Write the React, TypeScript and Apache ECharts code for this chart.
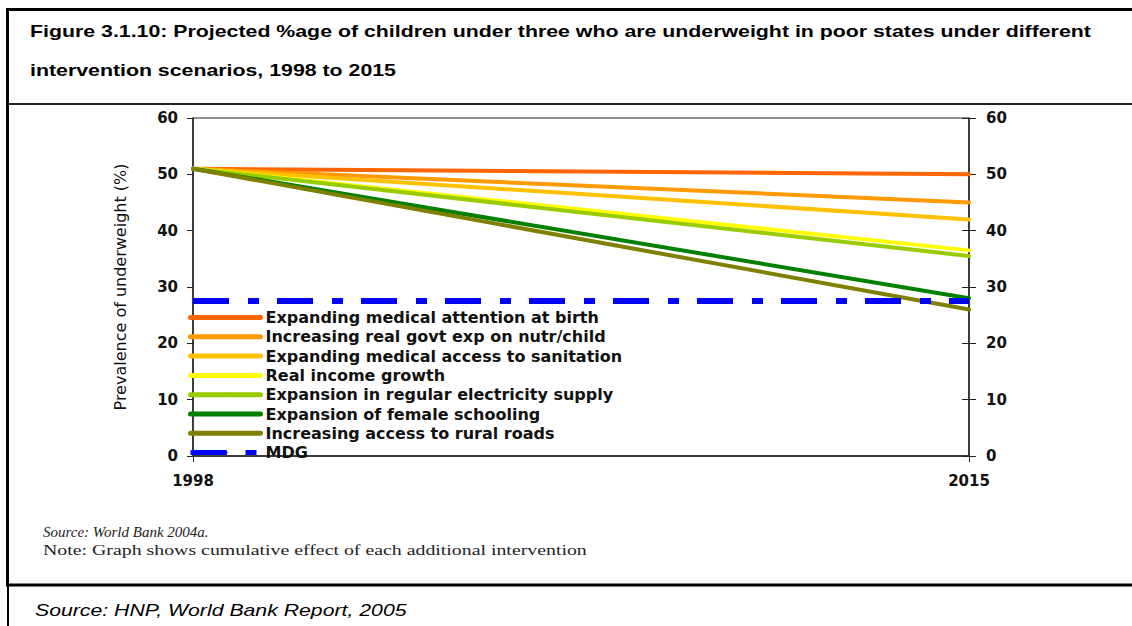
import React, { useEffect, useRef } from "react";
import * as echarts from "echarts";

const years = ["1998", "2015"];
const seriesNames = [
  "Expanding medical attention at birth",
  "Increasing real govt exp on nutr/child",
  "Expanding medical access to sanitation",
  "Real income growth",
  "Expansion in regular electricity supply",
  "Expansion of female schooling",
  "Increasing access to rural roads",
  "MDG",
];
const medicalAttention = [51, 50];
const govtExp = [51, 45];
const sanitation = [51, 42];
const incomeGrowth = [51, 36.5];
const electricity = [51, 35.5];
const femaleSchooling = [51, 28];
const ruralRoads = [51, 26];
const mdg = [27.5, 27.5];
const seriesValues = [
  medicalAttention,
  govtExp,
  sanitation,
  incomeGrowth,
  electricity,
  femaleSchooling,
  ruralRoads,
  mdg,
];
const colors = [
  "#FF6600",
  "#FF9900",
  "#FFC000",
  "#FFFF00",
  "#99CC00",
  "#008000",
  "#808000",
  "#0000FF",
];
const yTicks = { min: 0, max: 60, interval: 10 };

const titleLine1 =
  "Figure 3.1.10: Projected %age of children under three who are underweight in poor states under different";
const titleLine2 = "intervention scenarios, 1998 to 2015";

export default function App() {
  const ref = useRef<HTMLDivElement>(null);
  useEffect(() => {
    if (!ref.current) return;
    const chart = echarts.init(ref.current, undefined, { renderer: "svg" });
    const axisFont = {
      fontFamily: "DejaVu Sans",
      fontWeight: "bold" as const,
      fontSize: 15,
      color: "#111",
    };
    const series: any[] = seriesNames.map((name, i) => {
      const isMdg = name === "MDG";
      return {
        name,
        type: "line",
        data: seriesValues[i],
        symbol: "none",
        showSymbol: false,
        xAxisIndex: 0,
        yAxisIndex: 0,
        z: isMdg ? 3 : 2,
        lineStyle: isMdg
          ? { color: colors[i], width: 6, type: [36, 19, 11, 18], cap: "butt" }
          : { color: colors[i], width: 4, cap: "round" },
        itemStyle: { color: colors[i] },
      };
    });
    chart.setOption({
      animation: false,
      backgroundColor: "#fff",
      grid: {
        left: 193,
        right: 163,
        top: 118,
        bottom: 170,
        show: true,
        borderColor: "#222",
        borderWidth: 1,
        backgroundColor: "transparent",
      },
      legend: {
        orient: "vertical",
        left: 188,
        top: 308,
        itemWidth: 70,
        itemHeight: 5,
        itemGap: 0.3,
        padding: 0,
        selectedMode: false,
        data: seriesNames,
        lineStyle: { width: 5 },
        textStyle: {
          fontFamily: "DejaVu Sans",
          fontWeight: "bold",
          fontSize: 16,
          lineHeight: 19,
          color: "#111",
        },
      },
      xAxis: {
        type: "category",
        data: years,
        boundaryGap: false,
        axisLine: { lineStyle: { color: "#222", width: 1.5 } },
        axisTick: { show: true, length: 6, lineStyle: { color: "#222" } },
        axisLabel: { ...axisFont, margin: 17 },
        splitLine: { show: false },
      },
      yAxis: [
        {
          type: "value",
          position: "left",
          ...yTicks,
          name: "Prevalence of underweight (%)",
          nameLocation: "middle",
          nameGap: 65,
          nameTextStyle: {
            fontFamily: "DejaVu Sans",
            fontSize: 16,
            color: "#111",
          },
          axisLine: { show: true, lineStyle: { color: "#222", width: 1.5 } },
          axisTick: { show: true, length: 6, lineStyle: { color: "#222" } },
          axisLabel: { ...axisFont, margin: 15 },
          splitLine: { show: false },
        },
        {
          type: "value",
          position: "right",
          ...yTicks,
          axisLine: { show: true, lineStyle: { color: "#222", width: 1.5 } },
          axisTick: { show: true, length: 7, lineStyle: { color: "#222" } },
          axisLabel: { ...axisFont, margin: 17 },
          splitLine: { show: false },
        },
        {
          type: "value",
          position: "right",
          ...yTicks,
          axisLine: { show: false },
          axisTick: { show: true, inside: true, length: 7, lineStyle: { color: "#222" } },
          axisLabel: { show: false },
          splitLine: { show: false },
        },
      ],
      series,
      graphic: [
        { type: "line", shape: { x1: 6, y1: 9.5, x2: 1132, y2: 9.5 }, style: { stroke: "#000", lineWidth: 3 }, silent: true },
        { type: "line", shape: { x1: 7.5, y1: 8, x2: 7.5, y2: 586 }, style: { stroke: "#000", lineWidth: 3 }, silent: true },
        { type: "line", shape: { x1: 8, y1: 104, x2: 1132, y2: 104 }, style: { stroke: "#222", lineWidth: 2 }, silent: true },
        { type: "line", shape: { x1: 6, y1: 585, x2: 1132, y2: 585 }, style: { stroke: "#000", lineWidth: 3 }, silent: true },
        { type: "line", shape: { x1: 8, y1: 585, x2: 8, y2: 626 }, style: { stroke: "#000", lineWidth: 2 }, silent: true },
        {
          type: "text",
          x: 30,
          y: 31,
          scaleX: 1.255,
          style: {
            text: titleLine1,
            font: "bold 17px 'Liberation Sans'",
            fill: "#000",
            textAlign: "left",
            verticalAlign: "middle",
          },
        },
        {
          type: "text",
          x: 30,
          y: 70,
          scaleX: 1.255,
          style: {
            text: titleLine2,
            font: "bold 17px 'Liberation Sans'",
            fill: "#000",
            textAlign: "left",
            verticalAlign: "middle",
          },
        },
        {
          type: "text",
          x: 43,
          y: 532,
          style: {
            text: "Source: World Bank 2004a.",
            font: "italic 15px 'Liberation Serif'",
            fill: "#222",
            verticalAlign: "middle",
          },
        },
        {
          type: "text",
          x: 43,
          y: 550,
          scaleX: 1.28,
          style: {
            text: "Note: Graph shows cumulative effect of each additional intervention",
            font: "15.5px 'Liberation Serif'",
            fill: "#222",
            verticalAlign: "middle",
          },
        },
        {
          type: "text",
          x: 35,
          y: 610,
          scaleX: 1.25,
          style: {
            text: "Source: HNP, World Bank Report, 2005",
            font: "italic 17px 'Liberation Sans'",
            fill: "#000",
            verticalAlign: "middle",
          },
        },
      ],
    });
    return () => chart.dispose();
  }, []);
  return (
    <div
      ref={ref}
      style={{ position: "fixed", left: 0, top: 0, width: 1132, height: 626 }}
    />
  );
}
